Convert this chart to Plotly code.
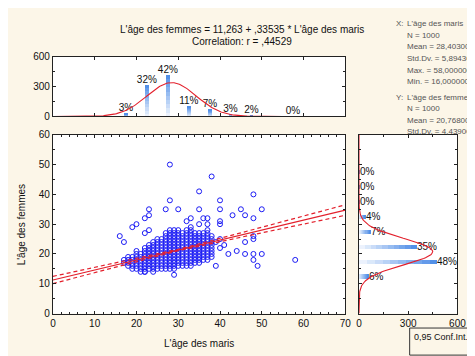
import numpy as np
import plotly.graph_objects as go

W, H = 475, 356
BG = "#fcf6e8"
FONT = "Liberation Sans, Arial, sans-serif"

# ---- statistics shown on the chart ----
n_obs = 1000
x_mean, x_sd = 28.403, 5.8943
y_mean, y_sd = 20.768, 4.4390
intercept, slope = 11.263, 0.33535
r_value = 0.44529

# ---- top histogram (L'âge des maris) ----
x_bin_centers = [17.5, 22.5, 27.5, 32.5, 37.5, 42.5, 47.5, 57.5]
x_bin_counts = [30, 321, 422, 110, 70, 28, 18, 1]
x_bin_labels = ["3%", "32%", "42%", "11%", "7%", "3%", "2%", "0%"]

# ---- right histogram (L'âge des femmes) ----
y_bin_centers = [12.5, 17.5, 22.5, 27.5, 32.5, 37.5, 42.5, 47.5]
y_bin_counts = [57, 478, 352, 70, 37, 3, 2, 1]
y_bin_labels = ["6%", "48%", "35%", "7%", "4%", "0%", "0%", "0%"]

# ---- scatter points ----
outlier_x = [28, 38, 35, 48, 28, 40, 27, 30, 35, 40, 45, 50, 22, 23, 43, 46, 33, 36, 37, 48,
             20, 19, 32, 35, 37, 40, 40, 22, 23, 16, 17, 20, 46, 48, 48, 44, 42, 46, 48, 50,
             48, 49, 58, 39, 29, 41, 39, 40, 40, 22, 23]
outlier_y = [50, 46, 41, 40, 38, 38, 35, 35, 35, 35, 35, 35, 32, 33, 33, 33, 32, 32, 32, 32,
             30, 29, 31, 30, 30, 31, 30, 27, 28, 26, 24, 21, 24, 25, 26, 21, 20, 20, 20, 20,
             18, 16, 18, 16, 13, 23, 24, 22, 25, 14, 35]
# dense cluster: for each husband's age, the lowest and highest wife's age seen
cluster_x = [17, 18, 19, 20, 21, 22, 23, 24, 25, 26, 27, 28, 29, 30, 31, 32, 33, 34, 35, 36, 37, 38]
cluster_ylo = [17, 16, 15, 15, 14, 14, 15, 14, 15, 15, 15, 15, 15, 16, 16, 16, 16, 17, 17, 18, 18, 19]
cluster_yhi = [18, 19, 19, 20, 20, 22, 23, 24, 25, 25, 27, 28, 28, 28, 27, 28, 29, 27, 27, 27, 28, 26]

pts_x = list(outlier_x)
pts_y = list(outlier_y)
for cx, lo, hi in zip(cluster_x, cluster_ylo, cluster_yhi):
    for yy in range(lo, hi + 1):
        pts_x.append(cx)
        pts_y.append(yy)


def px(v):
    return v / W


def py(v):
    return 1 - v / H


def mix(c0, c1, t):
    a = [int(c0[i:i + 2], 16) for i in (1, 3, 5)]
    b = [int(c1[i:i + 2], 16) for i in (1, 3, 5)]
    return "rgb(%d,%d,%d)" % tuple(round(a[k] + (b[k] - a[k]) * t) for k in range(3))


LIGHT, DARK = "#f4f8fe", "#4a8ae6"
NSEG = 10

fig = go.Figure()

# --- main scatter ---
fig.add_trace(go.Scatter(x=pts_x, y=pts_y, mode="markers",
                         marker=dict(symbol="circle-open", size=5, color="#1c1cf5",
                                     line=dict(width=1.0, color="#1c1cf5")),
                         xaxis="x", yaxis="y", showlegend=False, hoverinfo="skip"))

# regression line + 95% confidence band (computed from the displayed statistics)
xl = np.linspace(0, 70, 141)
yl = intercept + slope * xl
s_res = y_sd * np.sqrt(1 - r_value ** 2)
sxx = (n_obs - 1) * x_sd ** 2
half = 1.962 * s_res * np.sqrt(1 / n_obs + (xl - x_mean) ** 2 / sxx)
fig.add_trace(go.Scatter(x=xl, y=yl, mode="lines", line=dict(color="#e3202c", width=1.2),
                         xaxis="x", yaxis="y", showlegend=False, hoverinfo="skip"))
for sgn in (1, -1):
    fig.add_trace(go.Scatter(x=xl, y=yl + sgn * half, mode="lines",
                             line=dict(color="#e3202c", width=1.2, dash="4px,3px"),
                             xaxis="x", yaxis="y", showlegend=False, hoverinfo="skip"))

# --- top histogram (gradient bars: light at base, darker at top) ---
xc = np.array(x_bin_counts, dtype=float)
for k in range(NSEG):
    last = k == NSEG - 1
    fig.add_trace(go.Bar(x=x_bin_centers, y=xc / NSEG, base=xc * k / NSEG, width=0.9,
                         marker=dict(color=mix(LIGHT, DARK, (k + 0.5) / NSEG), line=dict(width=0)),
                         text=x_bin_labels if last else None,
                         textposition="outside" if last else "none", cliponaxis=False,
                         constraintext="none",
                         textfont=dict(size=10, color="#111", family=FONT),
                         xaxis="x2", yaxis="y2", showlegend=False, hoverinfo="skip"))
xn = np.linspace(0, 70, 281)
yn = n_obs * 5 / (x_sd * np.sqrt(2 * np.pi)) * np.exp(-0.5 * ((xn - x_mean) / x_sd) ** 2)
fig.add_trace(go.Scatter(x=xn, y=yn, mode="lines", line=dict(color="#e3202c", width=1.1),
                         xaxis="x2", yaxis="y2", showlegend=False, hoverinfo="skip"))

# --- right histogram (gradient bars: light at axis, darker at end) ---
yc = np.array(y_bin_counts, dtype=float)
for k in range(NSEG):
    last = k == NSEG - 1
    fig.add_trace(go.Bar(y=y_bin_centers, x=yc / NSEG, base=yc * k / NSEG, orientation="h",
                         width=1.4,
                         marker=dict(color=mix(LIGHT, DARK, (k + 0.5) / NSEG), line=dict(width=0)),
                         text=y_bin_labels if last else None,
                         textposition="outside" if last else "none", cliponaxis=False,
                         constraintext="none",
                         textfont=dict(size=10, color="#111", family=FONT),
                         xaxis="x3", yaxis="y3", showlegend=False, hoverinfo="skip"))
yv = np.linspace(0, 60, 241)
xv = n_obs * 5 / (y_sd * np.sqrt(2 * np.pi)) * np.exp(-0.5 * ((yv - y_mean) / y_sd) ** 2)
fig.add_trace(go.Scatter(x=xv, y=yv, mode="lines", line=dict(color="#e3202c", width=1.1),
                         xaxis="x3", yaxis="y3", showlegend=False, hoverinfo="skip"))

tickfont = dict(size=10, color="#111", family=FONT)
common = dict(showgrid=False, zeroline=False, showline=True, linecolor="#222", linewidth=1,
              mirror="ticks", ticks="inside", ticklen=3, tickcolor="#222", tickfont=tickfont)

main_x_dom = [px(43), px(343)]
main_y_dom = [py(310), py(125)]

fig.update_layout(
    width=W, height=H, margin=dict(l=0, r=0, t=0, b=0),
    paper_bgcolor=BG, plot_bgcolor="white", font=dict(family=FONT, size=10, color="#111"),
    bargap=0, barmode="overlay",
    xaxis=dict(domain=main_x_dom, range=[0, 70], dtick=10, anchor="y",
               minor=dict(dtick=2, ticks="inside", ticklen=2, tickcolor="#222"), **common),
    yaxis=dict(domain=main_y_dom, range=[0, 60], dtick=10, anchor="x",
               minor=dict(dtick=5, ticks="inside", ticklen=2, tickcolor="#222"), **common),
    xaxis2=dict(domain=main_x_dom, range=[0, 70], dtick=10, anchor="y2",
                showticklabels=False, **common),
    yaxis2=dict(domain=[py(106), py(44)], range=[0, 600], dtick=300, anchor="x2",
                minor=dict(dtick=150, ticks="inside", ticklen=2, tickcolor="#222"), **common),
    xaxis3=dict(domain=[px(357), px(458)], range=[0, 600], dtick=300, anchor="y3",
                minor=dict(dtick=150, ticks="inside", ticklen=2, tickcolor="#222"), **common),
    yaxis3=dict(domain=main_y_dom, range=[0, 60], dtick=10, anchor="x3",
                showticklabels=False,
                minor=dict(dtick=5, ticks="inside", ticklen=2, tickcolor="#222"), **common),
)

P = dict(xref="paper", yref="paper", showarrow=False)
ann = []
ann.append(dict(x=px(237), y=py(16), text="L'âge des femmes = 11,263 + ,33535 * L'âge des maris",
                xanchor="center", yanchor="middle",
                font=dict(size=10, color="#111", family=FONT), **P))
ann.append(dict(x=px(237), y=py(28), text="Correlation: r = ,44529",
                xanchor="center", yanchor="middle",
                font=dict(size=10, color="#111", family=FONT), **P))
ann.append(dict(x=px(193), y=py(341), text="L'âge des maris",
                xanchor="center", yanchor="middle", font=dict(size=10, color="#111", family=FONT), **P))
ann.append(dict(x=px(11), y=py(218), text="L'âge des femmes", textangle=-90,
                xanchor="center", yanchor="middle", font=dict(size=10, color="#111", family=FONT), **P))

stat_font = dict(size=8, color="#555", family=FONT)
stat_lines = [
    (393, 10, "X:"), (404, 10, "L'âge des maris"),
    (404, 22, "N = 1000"), (404, 34, "Mean = 28,403000"), (404, 46, "Std.Dv. = 5,894300"),
    (404, 58, "Max. = 58,000000"), (404, 70, "Min. = 16,000000"),
    (393, 86, "Y:"), (404, 86, "L'âge des femmes"),
    (404, 98, "N = 1000"), (404, 110, "Mean = 20,768000"), (404, 122, "Std.Dv. = 4,439000"),
]
for xx, yy, tt in stat_lines:
    ann.append(dict(x=px(xx), y=py(yy), text=tt, xanchor="left",
                    yanchor="middle", font=stat_font, **P))

ann.append(dict(x=px(441), y=py(334), text="0,95 Conf.Int.",
                xanchor="center", yanchor="middle", font=dict(size=9, color="#111", family=FONT), **P))

fig.update_layout(annotations=ann, shapes=[
    dict(type="rect", xref="paper", yref="paper", x0=px(409), x1=px(473), y0=py(353), y1=py(325),
         line=dict(color="#333", width=1), fillcolor="rgba(0,0,0,0)", layer="above"),
])

fig.write_html("out.html")
